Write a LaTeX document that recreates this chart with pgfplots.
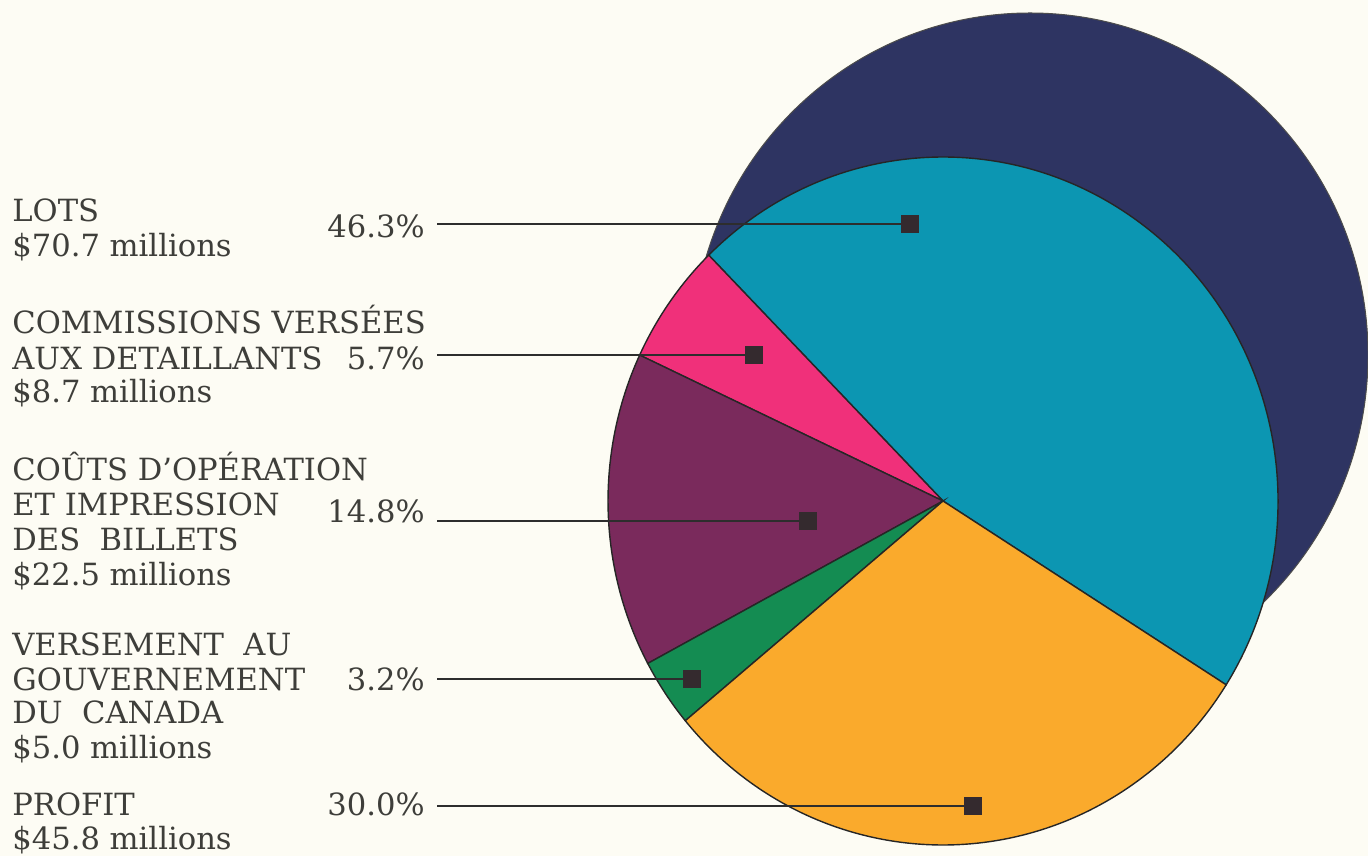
\documentclass[border=0pt]{standalone}
\usepackage{pgfplots}
\pgfplotsset{compat=1.18}
\usepackage{fontspec}
\setmainfont{DejaVu Serif}

\definecolor{bg}{RGB}{253,252,244}
\definecolor{cnavy}{RGB}{46,52,98}
\definecolor{cteal}{RGB}{12,150,178}
\definecolor{cpink}{RGB}{240,48,122}
\definecolor{cpurple}{RGB}{122,42,92}
\definecolor{cgreen}{RGB}{20,140,82}
\definecolor{corange}{RGB}{250,170,44}
\definecolor{cmark}{RGB}{52,42,46}
\definecolor{cline}{RGB}{45,45,45}
\definecolor{ctext}{RGB}{62,62,58}

\begin{document}
\begin{tikzpicture}
\begin{axis}[scale only axis, width=684pt, height=428pt,
  xmin=0, xmax=1368, ymin=0, ymax=856, hide axis, clip=true]
% background
\fill[bg] (axis cs:0,0) rectangle (axis cs:1368,856);
% navy backdrop disc
\filldraw[fill=cnavy, draw=black!70, line width=0.5pt] (axis cs:1030,501) ellipse[x radius=169pt, y radius=171pt];
% pie slices (percentages)
\def\angstart{-32.3}
\foreach \p/\c in {46.3/cteal, 5.7/cpink, 14.8/cpurple, 3.2/cgreen, 30.0/corange}{
  \pgfmathsetmacro\angend{\angstart+3.6*\p}
  \edef\temp{\noexpand\filldraw[fill=\c, draw=black!85, line width=0.7pt]
    (axis cs:943,355) -- ++(\angstart:167.5pt and 172pt)
    arc[start angle=\angstart, end angle=\angend, x radius=167.5pt, y radius=172pt] -- cycle;}
  \temp
  \xdef\angstart{\angend}
}
% leader lines
\addplot[cline, line width=1pt] coordinates {(437,632) (910,632)};
\addplot[cline, line width=1pt] coordinates {(437,501) (754,501)};
\addplot[cline, line width=1pt] coordinates {(437,335) (808,335)};
\addplot[cline, line width=1pt] coordinates {(437,177) (692,177)};
\addplot[cline, line width=1pt] coordinates {(437,50) (973,50)};
\addplot[only marks, mark=square*, mark size=4.2pt, color=cmark] coordinates {(910,632) (754,501) (808,335) (692,177) (973,50)};
% labels
\begin{scope}[every node/.style={text=ctext, font=\fontsize{15.3pt}{18pt}\selectfont, inner sep=0pt}]
\node[anchor=base west] at (axis cs:12,634) {LOTS};
\node[anchor=base west] at (axis cs:12,599) {\$70.7 millions};
\node[anchor=base east] at (axis cs:425,618) {46.3\%};
\node[anchor=base west] at (axis cs:12,522) {COMMISSIONS VERSÉES};
\node[anchor=base west] at (axis cs:12,486) {AUX DETAILLANTS};
\node[anchor=base east] at (axis cs:425,486) {5.7\%};
\node[anchor=base west] at (axis cs:12,453) {\$8.7 millions};
\node[anchor=base west] at (axis cs:12,375) {COÛTS D’OPÉRATION};
\node[anchor=base west] at (axis cs:12,340) {ET IMPRESSION};
\node[anchor=base east] at (axis cs:425,333) {14.8\%};
\node[anchor=base west] at (axis cs:12,305) {DES\ \ BILLETS};
\node[anchor=base west] at (axis cs:12,270) {\$22.5 millions};
\node[anchor=base west] at (axis cs:12,200) {VERSEMENT\ \ AU};
\node[anchor=base west] at (axis cs:12,166) {GOUVERNEMENT};
\node[anchor=base east] at (axis cs:425,166) {3.2\%};
\node[anchor=base west] at (axis cs:12,133) {DU\ \ CANADA};
\node[anchor=base west] at (axis cs:12,98) {\$5.0 millions};
\node[anchor=base west] at (axis cs:12,41) {PROFIT};
\node[anchor=base east] at (axis cs:425,41) {30.0\%};
\node[anchor=base west] at (axis cs:12,7) {\$45.8 millions};
\end{scope}
\end{axis}
\end{tikzpicture}
\end{document}
